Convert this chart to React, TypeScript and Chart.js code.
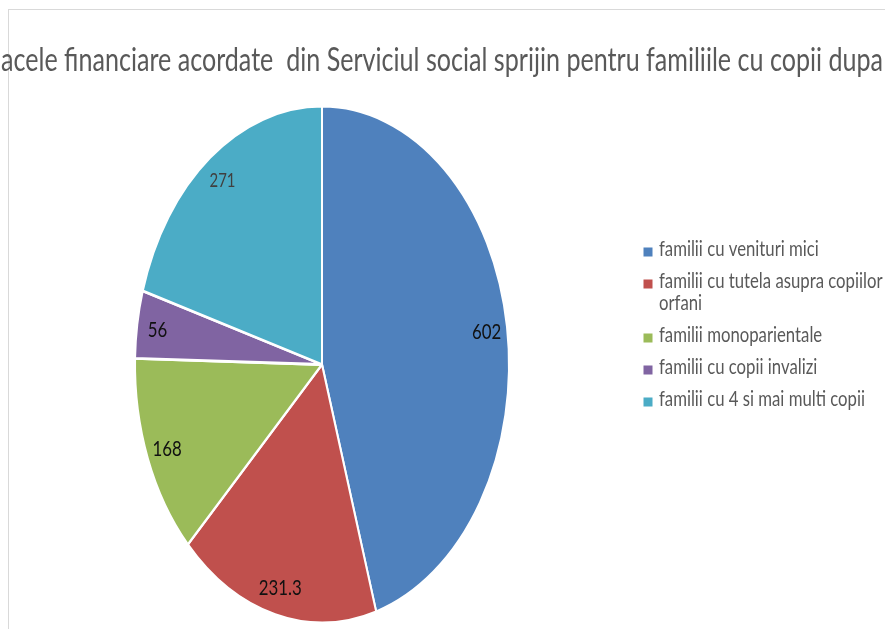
import React, { useEffect, useRef } from 'react';
import { Chart, registerables } from 'chart.js';

Chart.register(...registerables);

const titleText = 'acele financiare acordate  din Serviciul social sprijin pentru familiile cu copii dupa';
const categories = [
  'familii cu venituri mici',
  'familii cu tutela asupra copiilor orfani',
  'familii monoparientale',
  'familii cu copii invalizi',
  'familii cu 4 si mai multi copii',
];
const values = [602, 231.3, 168, 56, 271];
const sliceColors = ['#4F81BD', '#C0504D', '#9BBB59', '#8064A2', '#4BACC6'];
const labelColors = ['#111111', '#111111', '#111111', '#111111', '#404040'];
const labelFontSizes = [22, 22, 22, 22, 19.5];

const FONT = 'Lato, "Open Sans", sans-serif';
const STRETCH_Y = 258.3 / 187;

function drawScaledText(ctx: CanvasRenderingContext2D, text: string, x: number, y: number, sx: number, align: 'left' | 'center') {
  ctx.save();
  ctx.translate(x, y);
  ctx.scale(sx, 1);
  ctx.textAlign = align;
  ctx.textBaseline = 'alphabetic';
  ctx.fillText(text, 0, 0);
  ctx.restore();
}

const framePlugin = {
  id: 'frame',
  beforeDraw(chart: any) {
    const ctx = chart.ctx as CanvasRenderingContext2D;
    ctx.save();
    ctx.strokeStyle = '#d9d9d9';
    ctx.lineWidth = 1;
    ctx.strokeRect(8.5, 9.5, 3000, 3000);
    ctx.restore();
  },
};

const stretchPlugin = {
  id: 'stretch',
  beforeDatasetsDraw(chart: any) {
    const arc = chart.getDatasetMeta(0).data[0];
    const ctx = chart.ctx as CanvasRenderingContext2D;
    ctx.save();
    ctx.translate(arc.x, arc.y);
    ctx.scale(1, STRETCH_Y);
    ctx.translate(-arc.x, -arc.y);
  },
  afterDatasetsDraw(chart: any) {
    chart.ctx.restore();
  },
};

const labelsPlugin = {
  id: 'sliceLabels',
  afterDatasetsDraw(chart: any) {
    const ctx = chart.ctx as CanvasRenderingContext2D;
    const meta = chart.getDatasetMeta(0);
    const data = chart.data.datasets[0].data as number[];
    // reference width for scaling
    ctx.save();
    ctx.font = `22px ${FONT}`;
    const sx = 43 / ctx.measureText('231.3').width;
    ctx.restore();
    meta.data.forEach((arc: any, i: number) => {
      const { x, y, startAngle, endAngle, outerRadius } = arc.getProps(['x', 'y', 'startAngle', 'endAngle', 'outerRadius'], true);
      const mid = (startAngle + endAngle) / 2;
      const f = 0.89;
      const px = x + Math.cos(mid) * outerRadius * f;
      const py = y + Math.sin(mid) * outerRadius * f * STRETCH_Y;
      const size = labelFontSizes[i];
      ctx.save();
      ctx.font = `${size}px ${FONT}`;
      ctx.fillStyle = labelColors[i];
      drawScaledText(ctx, String(data[i]), px, py + size * 0.36, sx, 'center');
      ctx.restore();
    });
  },
};

function wrapWords(ctx: CanvasRenderingContext2D, text: string, maxW: number, sx: number): string[] {
  const words = text.split(' ');
  const lines: string[] = [];
  let cur = '';
  for (const w of words) {
    const test = cur ? cur + ' ' + w : w;
    if (cur && ctx.measureText(test).width * sx > maxW) {
      lines.push(cur);
      cur = w;
    } else {
      cur = test;
    }
  }
  if (cur) lines.push(cur);
  return lines;
}

const overlayPlugin = {
  id: 'overlay',
  afterDraw(chart: any) {
    const ctx = chart.ctx as CanvasRenderingContext2D;
    // Title
    ctx.save();
    ctx.font = `32px ${FONT}`;
    ctx.fillStyle = '#595959';
    const tw = ctx.measureText(titleText).width;
    drawScaledText(ctx, titleText, 1, 71, 882 / tw, 'left');
    ctx.restore();

    // Legend
    ctx.save();
    ctx.font = `22px ${FONT}`;
    const lsx = 206 / ctx.measureText(categories[4]).width;
    const labels = chart.data.labels as string[];
    const bg = chart.data.datasets[0].backgroundColor as string[];
    let baseline = 255.5;
    labels.forEach((lab, i) => {
      const lines = wrapWords(ctx, lab, 224, lsx);
      ctx.fillStyle = bg[i];
      ctx.fillRect(643.5, baseline - 8, 9, 9);
      ctx.fillStyle = '#595959';
      lines.forEach((ln, j) => {
        drawScaledText(ctx, ln, 659, baseline + j * 22, lsx, 'left');
      });
      baseline += (lines.length - 1) * 22 + 32;
    });
    ctx.restore();
  },
};

export default function App() {
  const ref = useRef<HTMLCanvasElement | null>(null);
  useEffect(() => {
    if (!ref.current) return;
    const chart = new Chart(ref.current, {
      type: 'pie',
      data: {
        labels: categories,
        datasets: [
          {
            data: values,
            backgroundColor: sliceColors,
            borderColor: '#ffffff',
            borderWidth: 2,
            radius: 187,
            clip: false as any,
          } as any,
        ],
      },
      options: {
        animation: false,
        responsive: false,
        devicePixelRatio: 1,
        events: [],
        layout: { padding: { left: 0, right: 241, top: 100, bottom: 0 } },
        plugins: {
          legend: { display: false },
          title: { display: false },
          tooltip: { enabled: false },
        },
      },
      plugins: [framePlugin, stretchPlugin, labelsPlugin, overlayPlugin],
    });
    return () => chart.destroy();
  }, []);
  return (
    <div style={{ position: 'absolute', left: 0, top: 0, width: 885, height: 629, background: '#fff' }}>
      <canvas ref={ref} width={885} height={629} style={{ display: 'block', width: 885, height: 629 }} />
    </div>
  );
}
